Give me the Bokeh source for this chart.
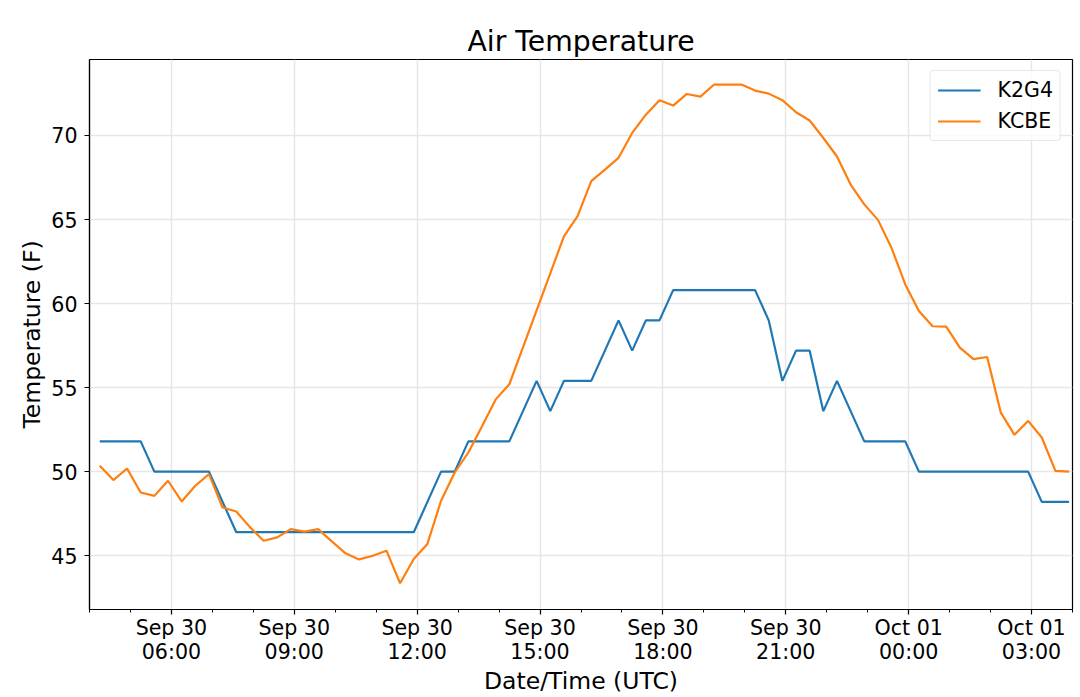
import pandas as pd
from bokeh.plotting import figure
from bokeh.models import Range1d, FixedTicker, DatetimeTickFormatter, Legend, LegendItem
from bokeh.embed import file_html
from bokeh.resources import INLINE

# Observation times: every 20 minutes, Sep 30 04:15 UTC .. Oct 01 03:55 UTC
times = pd.date_range("2019-09-30 04:15", periods=72, freq="20min")

k2g4 = [51.8, 51.8, 51.8, 51.8, 50.0, 50.0, 50.0, 50.0, 50.0, 48.2,
        46.4, 46.4, 46.4, 46.4, 46.4, 46.4, 46.4, 46.4, 46.4, 46.4,
        46.4, 46.4, 46.4, 46.4, 48.2, 50.0, 50.0, 51.8, 51.8, 51.8,
        51.8, 53.6, 55.4, 53.6, 55.4, 55.4, 55.4, 57.2, 59.0, 57.2,
        59.0, 59.0, 60.8, 60.8, 60.8, 60.8, 60.8, 60.8, 60.8, 59.0,
        55.4, 57.2, 57.2, 53.6, 55.4, 53.6, 51.8, 51.8, 51.8, 51.8,
        50.0, 50.0, 50.0, 50.0, 50.0, 50.0, 50.0, 50.0, 50.0, 48.2,
        48.2, 48.2]

kcbe = [50.35, 49.5, 50.19, 48.76, 48.56, 49.46, 48.23, 49.16, 49.85, 47.87,
        47.63, 46.7, 45.89, 46.09, 46.58, 46.43, 46.58, 45.85, 45.14, 44.78,
        45.0, 45.3, 43.36, 44.8, 45.7, 48.27, 49.95, 51.14, 52.7, 54.3,
        55.2, 57.4, 59.6, 61.8, 64.0, 65.2, 67.28, 67.97, 68.67, 70.15,
        71.24, 72.1, 71.78, 72.47, 72.31, 73.03, 73.03, 73.03, 72.67, 72.49,
        72.1, 71.38, 70.89, 69.85, 68.75, 67.08, 65.9, 64.98, 63.3, 61.14,
        59.56, 58.65, 58.63, 57.38, 56.69, 56.82, 53.51, 52.19, 53.02, 52.03,
        50.05, 50.0]

series_names = ["K2G4", "KCBE"]
series_colors = ["#1f77b4", "#ff7f0e"]

y_ticks = [45, 50, 55, 60, 65, 70]

FONT = "DejaVu Sans"

x_start = pd.Timestamp("2019-09-30 04:00")
x_end = pd.Timestamp("2019-10-01 04:00")

p = figure(width=1080, height=697, x_axis_type="datetime",
           output_backend="svg", toolbar_location=None,
           x_range=Range1d(x_start, x_end), y_range=Range1d(41.8, 74.52),
           min_border_left=89, min_border_right=8, min_border_top=59,
           min_border_bottom=0)

def ms(t):
    return pd.Timestamp(t).value / 1e6

major = [ms(t) for t in pd.date_range("2019-09-30 06:00", "2019-10-01 03:00", freq="3h")]
minor = [ms(t) for t in pd.date_range("2019-09-30 04:00", "2019-10-01 04:00", freq="1h")]
p.xaxis.ticker = FixedTicker(ticks=major, minor_ticks=minor)
p.xaxis.formatter = DatetimeTickFormatter(hours="%b %d\n%H:%M", days="%b %d\n%H:%M",
                                          hourmin="%b %d\n%H:%M", minutes="%b %d\n%H:%M")
p.yaxis.ticker = FixedTicker(ticks=y_ticks)

renderers = []
for vals, color in zip([k2g4, kcbe], series_colors):
    r = p.line(times, vals, line_color=color, line_width=2.2)
    renderers.append(r)

legend = Legend(items=[LegendItem(label=n, renderers=[r]) for n, r in zip(series_names, renderers)],
                location="top_right")
legend.label_text_font = FONT
legend.label_text_font_size = "20.5px"
legend.label_text_color = "black"
legend.glyph_width = 43
legend.glyph_height = 22
legend.label_height = 22
legend.label_standoff = 17
legend.spacing = 7
legend.padding = 7
legend.margin = 11
legend.border_line_color = "#d0d0d0"
legend.border_line_width = 1.2
legend.border_radius = 4
legend.background_fill_alpha = 0.8
p.add_layout(legend)

p.title.text = "Air Temperature"
p.title.text_font = FONT
p.title.text_font_size = "28.3px"
p.title.text_font_style = "normal"
p.title.align = "center"
p.title.text_color = "black"
p.title.standoff = 4

for ax in [p.xaxis[0], p.yaxis[0]]:
    ax.major_label_text_font = FONT
    ax.major_label_text_font_size = "20.6px"
    ax.major_label_text_color = "black"
    ax.axis_label_text_font = FONT
    ax.axis_label_text_font_size = "23.5px"
    ax.axis_label_text_font_style = "normal"
    ax.axis_label_text_color = "black"
    ax.axis_line_color = "black"
    ax.axis_line_width = 1.2
    ax.major_tick_line_color = "black"
    ax.major_tick_line_width = 1.2
    ax.major_tick_out = 5
    ax.major_tick_in = 0
    ax.minor_tick_line_color = "black"
    ax.minor_tick_line_width = 1.0
    ax.minor_tick_out = 3
    ax.minor_tick_in = 0

p.xaxis.axis_label = "Date/Time (UTC)"
p.yaxis.axis_label = "Temperature (F)"
p.xaxis.major_label_standoff = 1
p.xaxis.axis_label_standoff = 0
p.xaxis.major_label_text_line_height = 1.0
p.yaxis.major_label_standoff = 7
p.yaxis.axis_label_standoff = 2
p.yaxis.minor_tick_line_color = None

p.grid.grid_line_color = "#e6e6e6"
p.grid.grid_line_width = 1.4
p.outline_line_color = "black"
p.outline_line_width = 1.2
p.background_fill_color = "white"
p.border_fill_color = "white"

open("out.html", "w").write(file_html(p, INLINE))
